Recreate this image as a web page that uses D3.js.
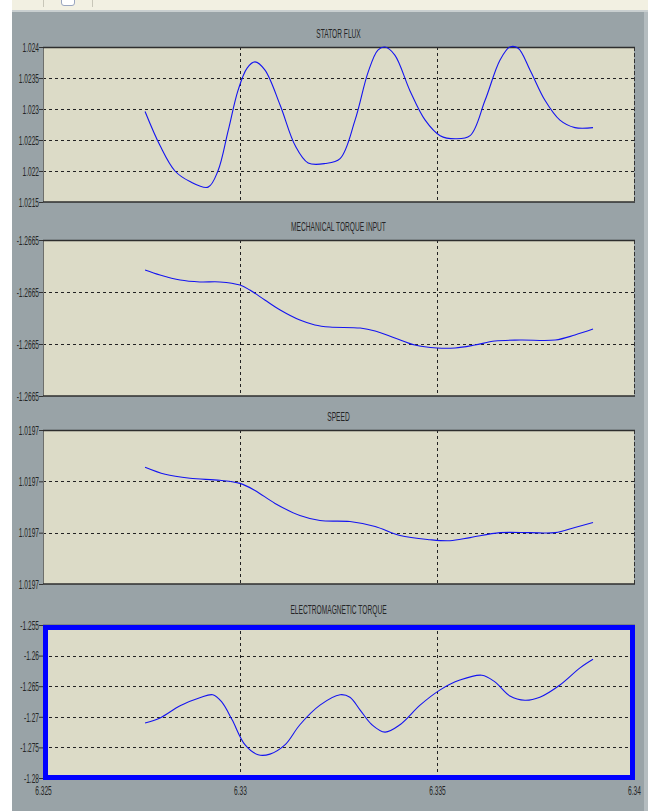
<!DOCTYPE html>
<html><head><meta charset="utf-8">
<script src="https://cdn.jsdelivr.net/npm/d3@7"></script>
<style>
body{margin:0;background:#fff;}
svg{display:block;}
.t{font-family:"Liberation Sans",Arial,sans-serif;fill:#262626;}
</style>
</head><body>
<svg id="c" width="648" height="811"></svg>
<script>
// ---- data ----
const xDomain = [6.325, 6.34];
const xTicks = [6.325, 6.33, 6.335, 6.34];
const xTickLabels = ["6.325", "6.33", "6.335", "6.34"];

const titles = ["STATOR FLUX", "MECHANICAL TORQUE INPUT", "SPEED", "ELECTROMAGNETIC TORQUE"];

const fluxDomain = [1.0215, 1.024];
const fluxTicks = [1.0215, 1.022, 1.0225, 1.023, 1.0235, 1.024];
const fluxTickLabels = ["1.0215", "1.022", "1.0225", "1.023", "1.0235", "1.024"];
const fluxT = [6.32759,6.32797,6.32835,6.32873,6.32919,6.32944,6.32970,6.32995,6.33018,6.33038,6.33063,6.33102,6.33140,6.33173,6.33216,6.33254,6.33292,6.33325,6.33350,6.33368,6.33393,6.33431,6.33470,6.33508,6.33546,6.33584,6.33622,6.33660,6.33685,6.33706,6.33736,6.33774,6.33812,6.33850,6.33896];
const fluxV = [1.02296,1.02241,1.02200,1.02183,1.02174,1.02200,1.02265,1.02330,1.02366,1.02376,1.02363,1.02306,1.02241,1.02213,1.02212,1.02220,1.02282,1.02359,1.02395,1.02400,1.02387,1.02330,1.02282,1.02257,1.02252,1.02257,1.02314,1.02379,1.02400,1.02398,1.02363,1.02314,1.02282,1.02270,1.02270];

const mechDomain = [-1.266545, -1.266455];
const mechTicks = [-1.266545, -1.266515, -1.266485, -1.266455];
const mechTickLabels = ["-1.2665", "-1.2665", "-1.2665", "-1.2665"];
const mechT = [6.32759,6.32797,6.32848,6.32898,6.32949,6.33000,6.33025,6.33063,6.33102,6.33152,6.33190,6.33228,6.33305,6.33343,6.33393,6.33444,6.33500,6.33546,6.33596,6.33647,6.33711,6.33800,6.33850,6.33896];
const mechV = [-1.2664723,-1.2664752,-1.2664781,-1.2664792,-1.2664792,-1.2664810,-1.2664839,-1.2664896,-1.2664954,-1.2665012,-1.2665040,-1.2665052,-1.2665058,-1.2665075,-1.2665115,-1.2665156,-1.2665173,-1.2665173,-1.2665156,-1.2665133,-1.2665127,-1.2665127,-1.2665098,-1.2665064];

const speedDomain = [1.019655, 1.019745];
const speedTicks = [1.019655, 1.019685, 1.019715, 1.019745];
const speedTickLabels = ["1.0197", "1.0197", "1.0197", "1.0197"];
const speedT = [6.32759,6.32810,6.32873,6.32949,6.33000,6.33038,6.33089,6.33152,6.33203,6.33279,6.33343,6.33406,6.33482,6.33533,6.33584,6.33660,6.33736,6.33800,6.33850,6.33896];
const speedV = [1.0197232,1.0197191,1.0197168,1.0197156,1.0197138,1.0197097,1.0197021,1.0196950,1.0196921,1.0196915,1.0196886,1.0196833,1.0196809,1.0196803,1.0196821,1.0196850,1.0196850,1.0196850,1.0196880,1.0196909];

const emDomain = [-1.28, -1.255];
const emTicks = [-1.28, -1.275, -1.27, -1.265, -1.26, -1.255];
const emTickLabels = ["-1.28", "-1.275", "-1.27", "-1.265", "-1.26", "-1.255"];
const emT = [6.32759,6.32797,6.32848,6.32898,6.32931,6.32954,6.32980,6.33013,6.33046,6.33076,6.33114,6.33152,6.33203,6.33254,6.33279,6.33305,6.33335,6.33368,6.33406,6.33457,6.33508,6.33558,6.33614,6.33647,6.33685,6.33723,6.33761,6.33812,6.33863,6.33896];
const emV = [-1.2710,-1.2702,-1.2682,-1.2669,-1.2664,-1.2676,-1.2705,-1.2746,-1.2762,-1.2761,-1.2746,-1.2713,-1.2681,-1.2664,-1.2668,-1.2689,-1.2713,-1.2725,-1.2713,-1.2681,-1.2656,-1.2640,-1.2632,-1.2643,-1.2666,-1.2673,-1.2668,-1.2648,-1.2620,-1.2606];

// ---- layout ----
const W = 648, H = 811;
const plotL = 43, plotR = 634;
const panels = [
  {title: titles[0], top: 47, bottom: 202, titleY: 33, dom: fluxDomain, ticks: fluxTicks, labels: fluxTickLabels, t: fluxT, v: fluxV},
  {title: titles[1], top: 240, bottom: 396, titleY: 226, dom: mechDomain, ticks: mechTicks, labels: mechTickLabels, t: mechT, v: mechV},
  {title: titles[2], top: 430, bottom: 584, titleY: 416, dom: speedDomain, ticks: speedTicks, labels: speedTickLabels, t: speedT, v: speedV},
  {title: titles[3], top: 625, bottom: 778, titleY: 609, dom: emDomain, ticks: emTicks, labels: emTickLabels, t: emT, v: emV, blue: true}
];

const svg = d3.select("#c");
svg.append("rect").attr("width", W).attr("height", H).attr("fill", "#ffffff");
svg.append("rect").attr("x", 12).attr("y", 0).attr("width", W - 12).attr("height", 10).attr("fill", "#f2f0e2");
svg.append("rect").attr("x", 12).attr("y", 10).attr("width", W - 12).attr("height", 2).attr("fill", "#c9cfd0");
svg.append("rect").attr("x", 12).attr("y", 12).attr("width", W - 12).attr("height", H - 12).attr("fill", "#99a3a7");
svg.append("rect").attr("x", 644).attr("y", 12).attr("width", 4).attr("height", H - 12).attr("fill", "#b4bcbf");
svg.append("line").attr("x1", 43.5).attr("x2", 43.5).attr("y1", 0).attr("y2", 7).attr("stroke", "#c8c6b8");
svg.append("line").attr("x1", 92.5).attr("x2", 92.5).attr("y1", 0).attr("y2", 7).attr("stroke", "#c8c6b8");
svg.append("path").attr("d", "M61.5,0 V3 Q61.5,5.5 64,5.5 H72 Q74.5,5.5 74.5,3 V0").attr("fill", "#ffffff").attr("stroke", "#9aa6c0");

const x = d3.scaleLinear().domain(xDomain).range([plotL, plotR]);
const condensed = 0.55;
const labelSize = 12;

function addText(g, px, py, str, anchor, size, sx) {
  g.append("text").attr("class", "t")
    .attr("transform", `translate(${px},${py}) scale(${sx},1)`)
    .attr("text-anchor", anchor)
    .attr("font-size", size)
    .text(str);
}

panels.forEach(p => {
  const y = d3.scaleLinear().domain(p.dom).range([p.bottom, p.top]);
  const g = svg.append("g");
  g.append("rect").attr("x", plotL).attr("y", p.top).attr("width", plotR - plotL).attr("height", p.bottom - p.top)
    .attr("fill", "#dcdbc7");
  g.selectAll(".gx").data(xTicks.slice(1, -1)).join("line")
    .attr("x1", d => Math.round(x(d)) + 0.5).attr("x2", d => Math.round(x(d)) + 0.5)
    .attr("y1", p.top).attr("y2", p.bottom)
    .attr("stroke", "#222").attr("stroke-width", 1).attr("stroke-dasharray", "3,3");
  g.selectAll(".gy").data(p.ticks.slice(1, -1)).join("line")
    .attr("x1", plotL).attr("x2", plotR)
    .attr("y1", d => Math.round(y(d)) + 0.5).attr("y2", d => Math.round(y(d)) + 0.5)
    .attr("stroke", "#222").attr("stroke-width", 1).attr("stroke-dasharray", "3,3");
  g.append("line").attr("x1", plotL + 0.5).attr("x2", plotL + 0.5).attr("y1", p.top).attr("y2", p.bottom).attr("stroke", "#6d6f6c");
  g.append("line").attr("x1", plotR + 0.5).attr("x2", plotR + 0.5).attr("y1", p.top).attr("y2", p.bottom)
    .attr("stroke", "#333").attr("stroke-dasharray", "4,2");
  g.append("line").attr("x1", plotL).attr("x2", plotR + 1).attr("y1", p.top + 0.5).attr("y2", p.top + 0.5).attr("stroke", "#2e2e2e").attr("stroke-width", 1.6);
  g.append("line").attr("x1", plotL).attr("x2", plotR + 1).attr("y1", p.bottom).attr("y2", p.bottom).attr("stroke", "#2e2e2e").attr("stroke-width", 1.6);
  const ax = g.append("g").attr("transform", `translate(${plotL},0)`)
    .call(d3.axisLeft(y).tickValues(p.ticks).tickSize(4).tickFormat((d, i) => p.labels[i]));
  ax.select(".domain").remove();
  ax.selectAll(".tick line").attr("stroke", "#333");
  ax.selectAll(".tick text").each(function () {
    d3.select(this).attr("class", "t").attr("font-family", null).attr("fill", null)
      .attr("x", -4 / condensed).attr("dy", "0.35em")
      .attr("font-size", labelSize)
      .attr("transform", `scale(${condensed},1)`);
  });
  addText(g, (plotL + plotR) / 2, p.titleY + 4.5, p.title, "middle", 12.5, 0.53);
  const pts = p.t.map((t, i) => [t, p.v[i]]);
  const line = d3.line().x(d => x(d[0])).y(d => y(d[1])).curve(d3.curveCatmullRom.alpha(0.5));
  if (p.blue) {
    g.append("rect").attr("x", plotL + 2.5).attr("y", p.top + 2.5).attr("width", plotR - plotL - 4)
      .attr("height", p.bottom - p.top - 3)
      .attr("fill", "none").attr("stroke", "#0000ff").attr("stroke-width", 5);
  }
  g.append("path").datum(pts).attr("d", line).attr("fill", "none").attr("stroke", "#1414f0").attr("stroke-width", 1.1);
});

const xa = svg.append("g").attr("transform", `translate(0,${panels[3].bottom + 5})`)
  .call(d3.axisBottom(x).tickValues(xTicks).tickSize(0).tickFormat((d, i) => xTickLabels[i]));
xa.select(".domain").remove();
xa.selectAll(".tick text").each(function () {
  d3.select(this).attr("class", "t").attr("font-family", null).attr("fill", null)
    .attr("font-size", labelSize).attr("y", 3).attr("dy", "0.71em")
    .attr("transform", `scale(${condensed},1)`);
});
</script>
</body></html>
